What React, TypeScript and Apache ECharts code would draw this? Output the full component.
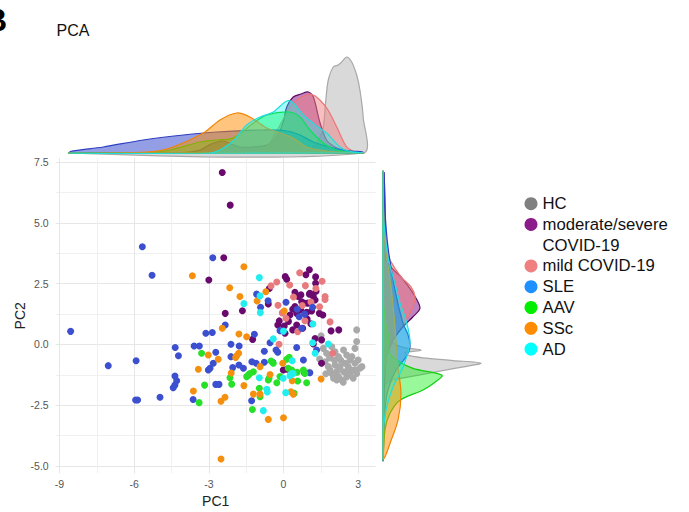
import React, { useEffect, useRef } from 'react';
import * as echarts from 'echarts';

// ---------- data ----------
const groups = ['HC', 'moderate/severe COVID-19', 'mild COVID-19', 'SLE', 'AAV', 'SSc', 'AD'];

const hcPoints = [
  [1.60, -0.16], [1.73, -0.36], [1.94, -0.09], [2.07, -0.30], [2.21, -0.50], [2.41, -0.23], [2.54, -0.43],
  [2.67, -0.64], [2.87, -0.77], [3.00, -0.64], [3.07, -0.98], [2.87, -1.05], [2.67, -1.19], [2.41, -1.12],
  [2.21, -1.33], [2.01, -1.39], [1.94, -1.19], [1.80, -0.91], [1.67, -0.71], [2.07, -0.84], [2.27, -0.91],
  [2.47, -0.77], [2.60, -0.91], [2.74, -1.05], [2.94, -1.19], [2.80, -1.39], [2.54, -1.33], [2.34, -1.46],
  [2.14, -1.46], [1.87, -1.05], [2.94, 0.12], [2.87, -0.16], [2.94, 0.60], [1.04, -1.14], [1.51, 0.36],
  [2.00, -1.26], [3.15, -0.91], [2.30, -0.65], [2.55, -1.10], [1.85, -0.55], [2.15, -1.10], [1.70, -1.20],
  [2.75, -0.50], [1.45, -0.60], [2.40, -1.55], [2.05, -0.65],
];
const modSevPoints = [
  [-2.46, 7.07], [-2.14, 5.73], [-2.40, 3.57], [-3.00, 2.65], [-2.34, 1.28], [-1.65, 1.39], [-0.61, 1.67],
  [-0.57, 2.30], [0.07, 2.79], [0.13, 2.68], [1.04, 3.07], [0.90, 2.87], [1.29, 2.78], [1.29, 2.52],
  [0.46, 2.15], [1.31, 2.19], [0.70, 2.04], [1.06, 2.11], [1.58, 1.21], [1.91, 0.56], [2.22, 0.60],
  [-1.24, 0.21], [1.27, 0.25], [1.53, 0.19], [1.20, 0.02], [1.53, -0.77], [-0.01, -1.05], [0.13, -1.02],
  [0.59, 1.97], [0.73, 1.76], [1.04, 2.07], [1.20, 1.97], [1.27, 1.83], [0.97, 1.70], [0.82, 1.70],
  [1.13, 1.38], [0.93, 1.32], [1.44, 1.28], [0.46, 1.56], [0.37, 1.45], [0.69, 1.42], [0.53, 1.28],
  [0.26, 1.21], [-0.17, 0.97], [-0.23, 0.80], [0.03, 0.76], [0.53, 0.80], [0.37, 0.60], [0.77, 0.67],
  [0.06, 0.46], [0.95, 1.05], [1.10, 0.85], [0.20, 0.95],
];
const mildPoints = [
  [-0.50, 2.41], [-0.27, 2.57], [-0.22, 1.61], [0.65, 2.95], [0.88, 2.42], [1.67, 1.97], [1.67, 1.85],
  [1.87, 0.93], [0.86, 0.98], [0.10, 1.08], [-0.18, 0.01], [1.98, -0.36], [0.57, 0.53], [1.30, 2.30],
  [0.40, 1.95], [1.10, 1.75], [1.55, 2.60], [0.75, 1.60], [-0.05, 1.30], [1.45, 1.55], [0.25, 2.45],
];
const slePoints = [
  [-8.55, 0.54], [-7.04, -0.87], [-5.92, -0.67], [-5.94, -2.28], [-5.86, -2.28], [-4.96, -2.17],
  [-4.35, -0.12], [-4.22, -0.46], [-4.36, -1.30], [-4.29, -1.49], [-4.36, -1.67], [-4.43, -1.78],
  [-3.12, 0.46], [-2.86, 0.49], [-2.34, 0.80], [-3.59, -0.06], [-3.38, -0.06], [-2.72, -0.32],
  [-2.82, -0.77], [-2.95, -0.98], [-3.02, -1.05], [-2.72, -1.64], [-2.59, -1.64], [-3.63, -2.26],
  [-2.11, 0.01], [-1.78, -0.06], [-2.11, -0.50], [-1.79, -0.84], [-1.61, -0.98], [-2.04, -0.95],
  [-1.17, 0.42], [-1.27, -0.71], [-1.10, -0.77], [-0.54, 0.07], [-0.77, -0.28], [-0.43, -0.73],
  [-1.28, -2.31], [-0.30, -0.23], [-0.23, -0.32], [0.53, -0.12], [0.80, -0.64], [0.84, -1.16],
  [-5.67, 4.02], [-5.28, 2.85], [-2.84, 3.57], [-1.08, 2.07], [-0.62, 1.80], [-0.92, 1.53], [0.10, 1.74],
  [1.17, 1.53], [0.63, 1.14], [0.73, 0.67], [-0.14, 0.57], [1.33, -0.23], [-0.77, -0.73], [1.06, -1.16],
  [0.55, 1.45], [0.85, 1.25],
];
const aavPoints = [
  [-3.29, -0.36], [-3.39, -2.39], [-3.17, -1.67], [-2.15, -1.37], [-2.08, -1.63], [-1.48, -1.32],
  [-1.35, -1.19], [-1.21, -1.12], [-1.25, -2.67], [-0.97, -1.80], [-0.94, -2.15], [-0.61, -1.46],
  [-0.58, -1.39], [-0.50, -0.68], [-0.41, -0.77], [-0.27, -1.57], [-0.14, -1.32], [0.13, -0.61],
  [0.23, -0.53], [0.19, -0.98], [0.33, -1.05], [0.55, -1.14], [0.57, -1.50], [0.93, -1.57], [0.43, -2.01],
  [0.80, -1.05], [-1.41, -1.26], [0.86, -1.19],
];
const sscPoints = [
  [-3.66, 2.83], [-1.59, 3.20], [-2.16, 2.33], [-1.75, 1.97], [-1.06, 1.79], [-0.71, 2.17], [0.03, 1.38],
  [-2.46, 0.67], [-1.79, 0.43], [-1.48, 0.32], [-3.02, -0.43], [-2.62, -0.61], [-3.42, -1.02],
  [-1.80, -0.36], [-1.88, -0.46], [-1.92, -0.53], [-2.10, -1.17], [-3.62, -1.91], [-2.35, -2.17],
  [-2.51, -2.33], [-1.59, -1.69], [-0.54, -1.23], [-1.21, -2.04], [-0.94, -2.04], [-0.61, -3.08],
  [0.00, -3.01], [0.30, -1.94], [0.39, -2.04], [-0.03, -0.77], [0.35, -1.49], [1.51, -1.42],
  [-2.51, -4.71], [-0.94, -0.91],
];
const adPoints = [
  [-0.97, 2.75], [-0.94, 2.00], [-1.59, 1.68], [-0.93, 1.31], [1.18, 0.84], [-0.41, 0.23], [1.17, 0.07],
  [1.27, -0.36], [1.80, 0.02], [0.35, -0.67], [0.33, -1.19], [0.39, -1.19], [0.26, -1.28], [-0.01, -1.39],
  [-0.97, -1.37], [-0.67, -1.84], [0.09, -1.98], [-0.81, -2.72], [-0.65, -1.95], [0.00, 0.55],
];

// marginal densities, PC1 (top): [PC1, density]
const hcTop = [[-8.57, 0], [0.5, 0], [0.9, 0.01], [1.19, 0.06], [1.45, 0.15], [1.60, 0.26], [1.70, 0.53], [1.80, 0.73], [2.00, 0.86], [2.20, 0.88], [2.34, 0.91], [2.54, 0.96], [2.74, 0.91], [2.94, 0.78], [3.07, 0.63], [3.20, 0.36]];
const modSevTop = [[-8.57, 0], [-4.0, 0.005], [-3.35, 0.03], [-2.9, 0.09], [-2.42, 0.12], [-2.0, 0.08], [-1.75, 0.06], [-1.2, 0.06], [-0.67, 0.08], [-0.27, 0.16], [0.0, 0.32], [0.13, 0.46], [0.39, 0.56], [0.7, 0.59], [1.0, 0.61], [1.2, 0.56], [1.47, 0.30], [1.73, 0.13], [2.14, 0.05], [2.54, 0.02], [3.19, 0]];
const mildTop = [[-8.57, 0], [-1.5, 0], [-1.0, 0.02], [-0.67, 0.06], [-0.27, 0.22], [0.13, 0.40], [0.5, 0.52], [0.9, 0.58], [1.2, 0.58], [1.5, 0.52], [1.79, 0.43], [2.14, 0.26], [2.54, 0.06], [2.9, 0.01], [3.19, 0]];
const sleTop = [[-8.57, 0.015], [-7.24, 0.06], [-5.63, 0.13], [-4.02, 0.18], [-2.68, 0.21], [-0.94, 0.23], [0.13, 0.22], [0.66, 0.18], [1.20, 0.11], [2.00, 0.05], [2.7, 0.02], [3.19, 0.01]];
const aavTop = [[-8.57, 0], [-5.5, 0], [-4.56, 0.03], [-3.35, 0.11], [-2.68, 0.13], [-2.02, 0.15], [-1.21, 0.30], [-0.67, 0.38], [0.26, 0.41], [0.66, 0.36], [1.06, 0.23], [1.60, 0.10], [2.14, 0.03], [2.8, 0.005], [3.19, 0]];
const sscTop = [[-8.57, 0], [-5.5, 0.01], [-4.56, 0.05], [-3.22, 0.20], [-2.55, 0.33], [-1.88, 0.40], [-1.35, 0.36], [-0.67, 0.25], [-0.14, 0.20], [0.39, 0.15], [0.93, 0.06], [1.73, 0.02], [2.5, 0.005], [3.19, 0]];
const adTop = [[-8.57, 0], [-3.0, 0], [-2.55, 0.03], [-2.02, 0.12], [-1.48, 0.28], [-0.94, 0.36], [-0.41, 0.41], [0.13, 0.52], [0.39, 0.50], [0.80, 0.38], [1.33, 0.27], [1.73, 0.20], [2.27, 0.06], [2.6, 0.02], [3.19, 0]];

// marginal densities, PC2 (right): [PC2, density]
const hcRight = [[7.07, 0], [1.5, 0], [0.76, 0.01], [0.39, 0.04], [0.06, 0.10], [-0.12, 0.20], [-0.23, 0.38], [-0.33, 0.22], [-0.45, 0.26], [-0.55, 0.40], [-0.66, 0.70], [-0.77, 0.98], [-0.97, 0.73], [-1.22, 0.41], [-1.45, 0.11], [-1.65, 0.02], [-2.0, 0], [-4.71, 0]];
const modSevRight = [[7.07, 0.01], [5.7, 0.02], [4.2, 0.02], [3.47, 0.03], [3.1, 0.10], [2.78, 0.18], [2.11, 0.30], [1.50, 0.37], [1.14, 0.30], [0.73, 0.20], [0.18, 0.10], [-0.51, 0.035], [-1.2, 0.02], [-2.5, 0.01], [-4.71, 0]];
const mildRight = [[7.07, 0], [4.5, 0], [4.0, 0.02], [3.47, 0.07], [2.78, 0.18], [2.37, 0.28], [1.96, 0.32], [1.55, 0.30], [1.0, 0.23], [0.46, 0.13], [-0.09, 0.07], [-0.64, 0.03], [-1.46, 0.005], [-4.71, 0]];
const sleRight = [[7.07, 0.01], [5.5, 0.02], [4.0, 0.05], [2.24, 0.12], [0.87, 0.20], [0.4, 0.25], [-0.09, 0.27], [-0.51, 0.23], [-1.05, 0.13], [-1.87, 0.05], [-2.7, 0.02], [-4.71, 0]];
const aavRight = [[7.07, 0], [2.0, 0], [0.8, 0.03], [0.3, 0.06], [-0.2, 0.05], [-0.6, 0.12], [-0.98, 0.30], [-1.26, 0.59], [-1.55, 0.52], [-1.87, 0.40], [-2.29, 0.17], [-2.83, 0.07], [-3.5, 0.02], [-4.71, 0]];
const sscRight = [[7.07, 0], [5.5, 0.005], [4.17, 0.02], [2.37, 0.08], [0.73, 0.12], [-0.92, 0.15], [-2.01, 0.18], [-3.11, 0.15], [-4.07, 0.07], [-4.62, 0.02], [-4.71, 0]];
const adRight = [[7.07, 0], [5.0, 0.01], [3.59, 0.05], [2.5, 0.12], [1.70, 0.17], [1.0, 0.23], [0.06, 0.27], [-0.93, 0.20], [-1.75, 0.10], [-2.7, 0.03], [-3.5, 0.005], [-4.71, 0]];

const pointsByGroup = [hcPoints, modSevPoints, mildPoints, slePoints, aavPoints, sscPoints, adPoints];
const topByGroup = [hcTop, modSevTop, mildTop, sleTop, aavTop, sscTop, adTop];
const rightByGroup = [hcRight, modSevRight, mildRight, sleRight, aavRight, sscRight, adRight];

const xTickStep = 3;
const yTickStep = 2.5;

// ---------- styles ----------
const pointColors = ['#a9a9a9', '#6a0a6e', '#e8797c', '#3b4fcf', '#28e028', '#f5900f', '#22eef0'];
const legendColors = ['#808080', '#8b1a8b', '#f08080', '#1e90ff', '#00ee00', '#ff8c00', '#00ffff'];
const densFill = ['#c4c4c4', '#8b1a8b', '#f08080', '#3b4fcf', '#00ee00', '#ff8c00', '#00ffff'];
const densAlpha = [0.65, 0.55, 0.5, 0.55, 0.4, 0.5, 0.35];
const densLine = ['#a8a8a8', '#5e0a62', '#ec7676', '#2c3fc0', '#10d010', '#f08400', '#20dede'];

const FONT = "'Liberation Sans', Arial, Helvetica, sans-serif";
const X_MIN = -9.15, X_MAX = 3.7, Y_MIN = -5.3, Y_MAX = 7.66;

function rgba(hex: string, a: number) {
  const n = parseInt(hex.slice(1), 16);
  return `rgba(${(n >> 16) & 255},${(n >> 8) & 255},${n & 255},${a})`;
}

function densityRenderer(orient: 'top' | 'right', gi: number) {
  return (params: any, api: any) => {
    if (params.dataIndexInside !== 0) return null;
    const n = params.dataInsideLength;
    const map = (v: number, d: number) => (orient === 'top' ? api.coord([v, d]) : api.coord([d, v]));
    const pts: number[][] = [];
    const push = (p: number[]) => {
      const last = pts[pts.length - 1];
      if (!last || Math.abs(last[0] - p[0]) > 0.01 || Math.abs(last[1] - p[1]) > 0.01) pts.push(p);
    };
    push(map(api.value(0, 0), 0));
    for (let i = 0; i < n; i++) push(map(api.value(0, i), api.value(1, i)));
    push(map(api.value(0, n - 1), 0));
    return {
      type: 'polygon',
      shape: { points: pts, smooth: 0.3 },
      style: { fill: rgba(densFill[gi], densAlpha[gi]), stroke: densLine[gi], lineWidth: 1.2 },
    };
  };
}

function App() {
  const ref = useRef<HTMLDivElement>(null);
  useEffect(() => {
    if (!ref.current) return;
    const chart = echarts.init(ref.current, undefined, { renderer: 'svg' });
    const series: any[] = [];
    groups.forEach((g, gi) => {
      series.push({
        type: 'custom', name: g, xAxisIndex: 1, yAxisIndex: 1,
        renderItem: densityRenderer('top', gi), data: topByGroup[gi], silent: true,
      });
      series.push({
        type: 'custom', name: g, xAxisIndex: 2, yAxisIndex: 2,
        renderItem: densityRenderer('right', gi), data: rightByGroup[gi], silent: true,
      });
    });
    groups.forEach((g, gi) => {
      series.push({
        type: 'scatter', name: g, xAxisIndex: 0, yAxisIndex: 0,
        data: pointsByGroup[gi], symbolSize: 7,
        itemStyle: { color: pointColors[gi], opacity: 1 },
      });
    });
    series.push({ type: 'scatter', name: 'COVID-19', xAxisIndex: 0, yAxisIndex: 0, data: [] });

    const legendData: any[] = [];
    groups.forEach((g, gi) => {
      legendData.push({ name: g, itemStyle: { color: legendColors[gi] } });
      if (gi === 1) legendData.push({ name: 'COVID-19', itemStyle: { color: 'rgba(0,0,0,0)', opacity: 0, borderWidth: 0 } });
    });

    const xFmt = (v: number) => (Math.abs(v / xTickStep - Math.round(v / xTickStep)) < 1e-6 ? String(Math.round(v)) : '');
    const yFmt = (v: number) => (Math.abs(v / yTickStep - Math.round(v / yTickStep)) < 1e-6 ? (Math.round(v * 10) / 10).toFixed(1) : '');

    chart.setOption({
      animation: false,
      backgroundColor: '#ffffff',
      textStyle: { fontFamily: FONT },
      grid: [
        { left: 55.7, right: 313.4, top: 158.2, bottom: 38.6, containLabel: false, outerBoundsMode: 'none' },
        { left: 55.7, right: 313.4, top: 43, bottom: 359, containLabel: false, outerBoundsMode: 'none' },
        { left: 383, right: 196, top: 158.2, bottom: 38.6, containLabel: false, outerBoundsMode: 'none' },
      ],
      xAxis: [
        {
          type: 'value', gridIndex: 0, min: X_MIN, max: X_MAX, splitNumber: 4,
          minInterval: xTickStep, maxInterval: xTickStep,
          axisLine: { show: false }, axisTick: { show: false },
          axisLabel: { formatter: xFmt, color: '#555', fontSize: 10.5, margin: 5, fontFamily: FONT },
          splitLine: { show: true, showMinLine: false, showMaxLine: false, lineStyle: { color: '#e6e6e6', width: 1 } },
          minorTick: { show: false, splitNumber: 2 },
          minorSplitLine: { show: true, lineStyle: { color: '#f0f0f0', width: 1 } },
          name: 'PC1', nameLocation: 'middle', nameGap: 17,
          nameTextStyle: { fontSize: 14, color: '#222', fontFamily: FONT },
        },
        { type: 'value', gridIndex: 1, min: X_MIN, max: X_MAX, show: false },
        { type: 'value', gridIndex: 2, min: 0, max: 1.1, show: false },
      ],
      yAxis: [
        {
          type: 'value', gridIndex: 0, min: Y_MIN, max: Y_MAX, splitNumber: 5,
          minInterval: yTickStep, maxInterval: yTickStep,
          axisLine: { show: false }, axisTick: { show: false },
          axisLabel: { formatter: yFmt, color: '#555', fontSize: 10.5, margin: 7, fontFamily: FONT },
          splitLine: { show: true, showMinLine: false, showMaxLine: false, lineStyle: { color: '#e6e6e6', width: 1 } },
          minorTick: { show: false, splitNumber: 2 },
          minorSplitLine: { show: true, lineStyle: { color: '#f0f0f0', width: 1 } },
          name: 'PC2', nameLocation: 'middle', nameGap: 28,
          nameTextStyle: { fontSize: 14, color: '#222', fontFamily: FONT },
        },
        { type: 'value', gridIndex: 1, min: 0, max: 1.1, show: false },
        { type: 'value', gridIndex: 2, min: Y_MIN, max: Y_MAX, show: false },
      ],
      legend: {
        orient: 'vertical', left: 524.5, top: 195.2, padding: 0,
        itemWidth: 13, itemHeight: 13, itemGap: 3.76, icon: 'circle',
        selectedMode: false,
        data: legendData,
        formatter: (n: string) => (n === 'moderate/severe COVID-19' ? 'moderate/severe' : n),
        textStyle: { fontSize: 16.7, color: '#111', lineHeight: 16, fontFamily: FONT },
      },
      graphic: [
        { type: 'text', x: -16, y: 4, style: { text: 'B', font: `bold 32px ${FONT}`, fill: '#000', textVerticalAlign: 'top' } },
        { type: 'text', x: 56.5, y: 22, style: { text: 'PCA', font: `16px ${FONT}`, fill: '#111', textVerticalAlign: 'top' } },
      ],
      series,
    });
    return () => chart.dispose();
  }, []);
  return <div ref={ref} style={{ position: 'absolute', left: 0, top: 0, width: 689, height: 512 }} />;
}

export default App;
